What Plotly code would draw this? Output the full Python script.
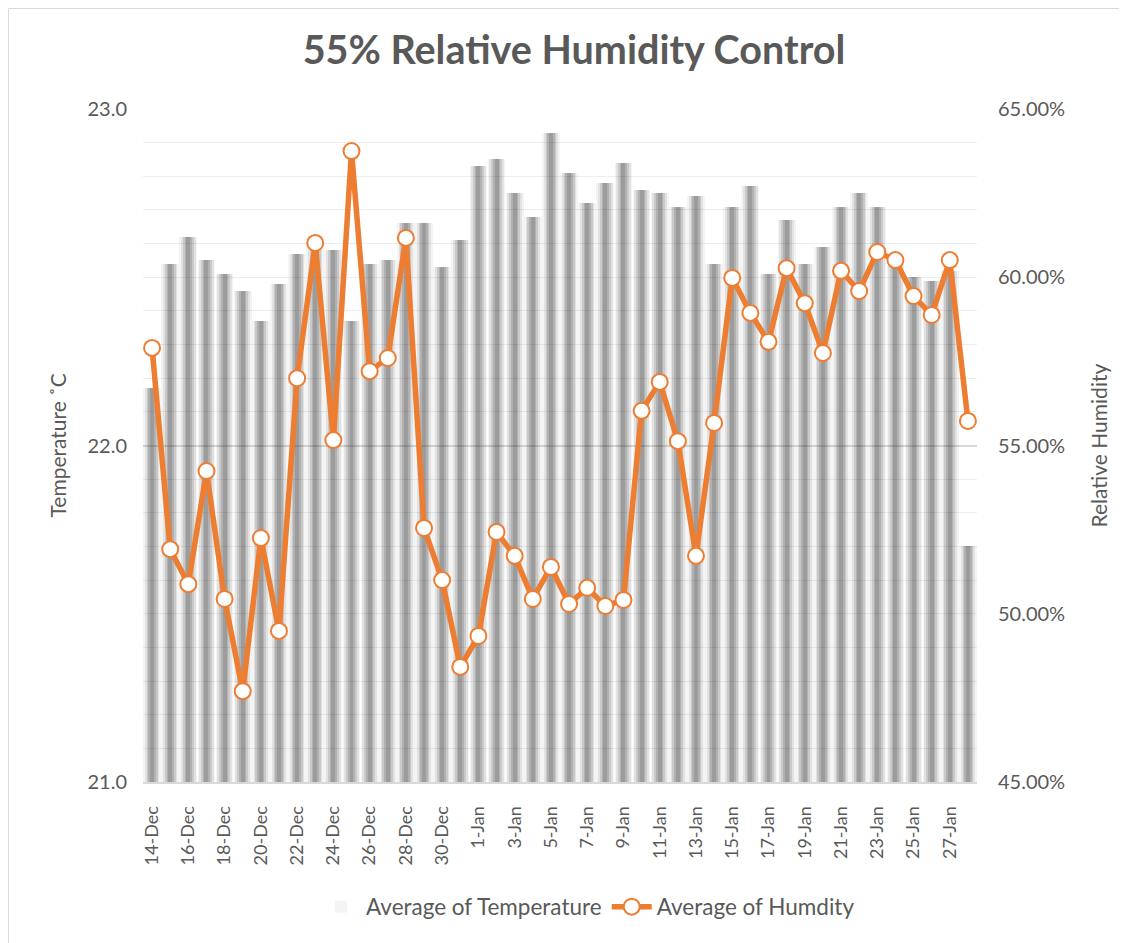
import plotly.graph_objects as go

dates = ["14-Dec","15-Dec","16-Dec","17-Dec","18-Dec","19-Dec","20-Dec","21-Dec","22-Dec","23-Dec",
         "24-Dec","25-Dec","26-Dec","27-Dec","28-Dec","29-Dec","30-Dec","31-Dec",
         "1-Jan","2-Jan","3-Jan","4-Jan","5-Jan","6-Jan","7-Jan","8-Jan","9-Jan","10-Jan",
         "11-Jan","12-Jan","13-Jan","14-Jan","15-Jan","16-Jan","17-Jan","18-Jan","19-Jan","20-Jan",
         "21-Jan","22-Jan","23-Jan","24-Jan","25-Jan","26-Jan","27-Jan","28-Jan"]

temperature = [22.17,22.54,22.62,22.55,22.51,22.46,22.37,22.48,22.57,22.60,
               22.58,22.37,22.54,22.55,22.66,22.66,22.53,22.61,
               22.83,22.85,22.75,22.68,22.93,22.81,22.72,22.78,22.84,22.76,
               22.75,22.71,22.74,22.54,22.71,22.77,22.51,22.67,22.54,22.59,
               22.71,22.75,22.71,22.56,22.50,22.49,22.52,21.70]

humidity = [57.90,51.92,50.88,54.24,50.44,47.70,52.25,49.49,57.00,61.02,
            55.16,63.75,57.21,57.60,61.17,52.55,51.00,48.42,
            49.34,52.43,51.72,50.44,51.39,50.29,50.77,50.23,50.41,56.03,
            56.89,55.13,51.72,55.67,59.98,58.94,58.08,60.27,59.23,57.75,
            60.19,59.59,60.75,60.51,59.44,58.88,60.51,55.73]

tick_labels = dates[::2]

FONT = "Lato"
GREY = "#595959"

# page body adds an 8px offset; margins compensate so the plot area lands at 143..977 x 109..782
L, T, PW, PH = 135, 101, 834, 673
W, H = 1127, 943

fig = go.Figure()

# Simulated cylindrical gradient bars via overlaid translucent layers
layers = [(0.98, 0.05), (0.8, 0.09), (0.6, 0.13), (0.4, 0.15), (0.22, 0.15)]
for i, (w, a) in enumerate(layers):
    fig.add_trace(go.Bar(
        x=dates, y=temperature, width=w,
        marker=dict(color=f"rgba(40,40,40,{a})", line=dict(width=0)),
        name="Average of Temperature",
        showlegend=(i == 0), legendgroup="t",
        yaxis="y",
    ))

fig.add_trace(go.Scatter(
    x=dates, y=humidity, yaxis="y2", mode="lines+markers",
    name="Average of Humdity",
    line=dict(color="#ed7d31", width=5.5),
    marker=dict(size=16, color="white", line=dict(color="#ed7d31", width=2)),
))

fig.update_layout(
    width=W, height=H,
    margin=dict(l=L, r=W - L - PW, t=T, b=H - T - PH),
    paper_bgcolor="white", plot_bgcolor="white",
    barmode="overlay", bargap=0,
    font=dict(family=FONT, color=GREY, size=17),
    title=dict(text="<b>55% Relative Humidity Control</b>", x=566 / W, xanchor="center",
               y=1 - 42 / H, yanchor="middle", yref="container",
               font=dict(family=FONT, size=39.5, color=GREY)),
    xaxis=dict(type="category", range=[-0.5, 45.5], tickmode="array",
               tickvals=tick_labels, ticktext=tick_labels, tickangle=-90,
               showgrid=False, showline=True, linecolor="#d9d9d9", linewidth=2,
               ticks="", ticklabelstandoff=15,
               tickfont=dict(family=FONT, size=18, color=GREY)),
    yaxis=dict(range=[21.0, 23.0], dtick=1, tickformat=".1f",
               showgrid=True, gridcolor="#d9d9d9", gridwidth=1.5,
               minor=dict(dtick=0.1, showgrid=True, gridcolor="#eeeeee", gridwidth=1),
               zeroline=False, showline=False, ticks="", ticklabelstandoff=15,
               tickfont=dict(family=FONT, size=20, color=GREY)),
    yaxis2=dict(range=[45, 65], dtick=5, tickformat=".2f", ticksuffix="%",
                overlaying="y", side="right", showgrid=False, zeroline=False,
                showline=False, ticks="", ticklabelstandoff=20,
                tickfont=dict(family=FONT, size=20, color=GREY)),
    legend=dict(orientation="h", xref="container", yref="container",
                x=580 / W, xanchor="center", y=1 - 899 / H, yanchor="middle",
                font=dict(family=FONT, size=22.5, color=GREY),
                itemwidth=40, traceorder="normal"),
    annotations=[
        dict(text="Temperature ˚C", xref="paper", yref="paper",
             x=(57 - 143) / PW, xanchor="center", y=0.5, yanchor="middle",
             textangle=-90, showarrow=False,
             font=dict(family=FONT, size=21, color=GREY)),
        dict(text="Relative Humidity", xref="paper", yref="paper",
             x=(1098 - 143) / PW, xanchor="center", y=0.5, yanchor="middle",
             textangle=-90, showarrow=False,
             font=dict(family=FONT, size=21, color=GREY)),
    ],
    shapes=[dict(type="rect", xref="paper", yref="paper",
                 x0=(-L + 0.5) / PW, x1=1.4, y0=-0.5, y1=(PH + T - 0.5) / PH,
                 line=dict(color="#d9d9d9", width=1), layer="below")],
)

fig.write_html("out.html")
